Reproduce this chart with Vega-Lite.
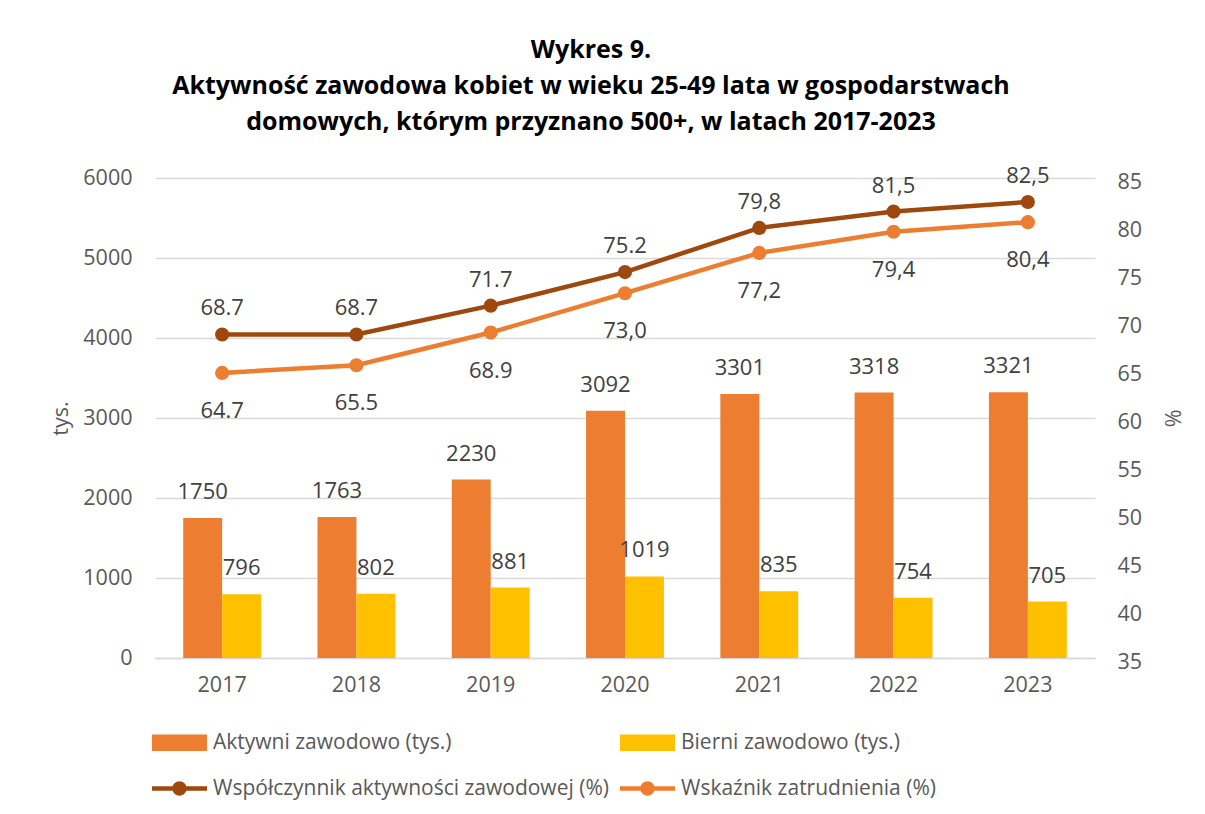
{
  "$schema": "https://vega.github.io/schema/vega-lite/v6.json",
  "width": 940,
  "height": 480,
  "autosize": "none",
  "padding": {"left": 155, "top": 178, "right": 110, "bottom": 156},
  "background": "white",
  "config": {
    "font": "Open Sans",
    "view": {"stroke": null},
    "axis": {
      "labelFont": "Open Sans",
      "labelFontSize": 21.5,
      "labelColor": "#595959",
      "titleFont": "Open Sans",
      "titleFontSize": 21.5,
      "titleColor": "#595959",
      "titleFontWeight": "normal",
      "domain": false,
      "ticks": false,
      "gridColor": "#D9D9D9",
      "gridWidth": 1.5
    }
  },
  "title": {
    "text": ["Wykres 9.", "Aktywność zawodowa kobiet w wieku 25-49 lata w gospodarstwach", "domowych, którym przyznano 500+, w latach 2017-2023"],
    "font": "Open Sans",
    "fontSize": 25,
    "fontWeight": "bold",
    "color": "#000000",
    "lineHeight": 36,
    "anchor": "middle",
    "frame": "group",
    "offset": 30,
    "dx": -34
  },
  "datasets": {
    "bars": [
      {"year": "2017", "series": "Aktywni zawodowo (tys.)", "value": 1750, "label": "1750"},
      {"year": "2018", "series": "Aktywni zawodowo (tys.)", "value": 1763, "label": "1763"},
      {"year": "2019", "series": "Aktywni zawodowo (tys.)", "value": 2230, "label": "2230"},
      {"year": "2020", "series": "Aktywni zawodowo (tys.)", "value": 3092, "label": "3092"},
      {"year": "2021", "series": "Aktywni zawodowo (tys.)", "value": 3301, "label": "3301"},
      {"year": "2022", "series": "Aktywni zawodowo (tys.)", "value": 3318, "label": "3318"},
      {"year": "2023", "series": "Aktywni zawodowo (tys.)", "value": 3321, "label": "3321"},
      {"year": "2017", "series": "Bierni zawodowo (tys.)", "value": 796, "label": "796"},
      {"year": "2018", "series": "Bierni zawodowo (tys.)", "value": 802, "label": "802"},
      {"year": "2019", "series": "Bierni zawodowo (tys.)", "value": 881, "label": "881"},
      {"year": "2020", "series": "Bierni zawodowo (tys.)", "value": 1019, "label": "1019"},
      {"year": "2021", "series": "Bierni zawodowo (tys.)", "value": 835, "label": "835"},
      {"year": "2022", "series": "Bierni zawodowo (tys.)", "value": 754, "label": "754"},
      {"year": "2023", "series": "Bierni zawodowo (tys.)", "value": 705, "label": "705"}
    ],
    "lines": [
      {"year": "2017", "series": "Współczynnik aktywności zawodowej (%)", "value": 68.7, "label": "68.7"},
      {"year": "2018", "series": "Współczynnik aktywności zawodowej (%)", "value": 68.7, "label": "68.7"},
      {"year": "2019", "series": "Współczynnik aktywności zawodowej (%)", "value": 71.7, "label": "71.7"},
      {"year": "2020", "series": "Współczynnik aktywności zawodowej (%)", "value": 75.2, "label": "75.2"},
      {"year": "2021", "series": "Współczynnik aktywności zawodowej (%)", "value": 79.8, "label": "79,8"},
      {"year": "2022", "series": "Współczynnik aktywności zawodowej (%)", "value": 81.5, "label": "81,5"},
      {"year": "2023", "series": "Współczynnik aktywności zawodowej (%)", "value": 82.5, "label": "82,5"},
      {"year": "2017", "series": "Wskaźnik zatrudnienia (%)", "value": 64.7, "label": "64.7"},
      {"year": "2018", "series": "Wskaźnik zatrudnienia (%)", "value": 65.5, "label": "65.5"},
      {"year": "2019", "series": "Wskaźnik zatrudnienia (%)", "value": 68.9, "label": "68.9"},
      {"year": "2020", "series": "Wskaźnik zatrudnienia (%)", "value": 73.0, "label": "73,0"},
      {"year": "2021", "series": "Wskaźnik zatrudnienia (%)", "value": 77.2, "label": "77,2"},
      {"year": "2022", "series": "Wskaźnik zatrudnienia (%)", "value": 79.4, "label": "79,4"},
      {"year": "2023", "series": "Wskaźnik zatrudnienia (%)", "value": 80.4, "label": "80,4"}
    ]
  },
  "encoding": {
    "x": {
      "field": "year",
      "type": "ordinal",
      "scale": {"paddingInner": 0.42, "paddingOuter": 0.21},
      "axis": {"title": null, "labelAngle": 0, "labelPadding": 16, "domain": true, "domainColor": "#D9D9D9", "domainWidth": 1.5}
    }
  },
  "layer": [
    {
      "data": {"name": "bars"},
      "encoding": {
        "y": {
          "field": "value",
          "type": "quantitative",
          "scale": {"domain": [0, 6000], "nice": false},
          "axis": {"title": "tys.", "format": "d", "values": [0, 1000, 2000, 3000, 4000, 5000, 6000], "grid": true, "labelPadding": 23, "titlePadding": 10}
        },
        "xOffset": {"field": "series", "type": "nominal", "sort": ["Aktywni zawodowo (tys.)", "Bierni zawodowo (tys.)"]}
      },
      "layer": [
        {
          "mark": {"type": "bar"},
          "encoding": {
            "color": {
              "field": "series",
              "type": "nominal",
              "scale": {
                "domain": ["Aktywni zawodowo (tys.)", "Bierni zawodowo (tys.)", "Współczynnik aktywności zawodowej (%)", "Wskaźnik zatrudnienia (%)"],
                "range": ["#ED7D31", "#FFC000", "#9E480E", "#ED7D31"]
              },
              "legend": {
                "title": null,
                "orient": "none",
                "legendX": -3,
                "legendY": 537,
                "direction": "horizontal",
                "columns": 2,
                "symbolSize": 3025,
                "rowPadding": 8,
                "columnPadding": 11,
                "labelFont": "Open Sans",
                "labelFontSize": 21,
                "labelColor": "#595959",
                "labelOffset": 6,
                "labelLimit": 600,
                "encode": {
                  "symbols": {
                    "update": {
                      "shape": [
                        {"test": "datum.value === 'Aktywni zawodowo (tys.)' || datum.value === 'Bierni zawodowo (tys.)'", "value": "M-1,-0.3H1V0.3H-1Z"},
                        {"value": "M-1,-0.085H1V0.085H-1Z M0.26,0A0.26,0.26 0 1,1 -0.26,0A0.26,0.26 0 1,1 0.26,0Z"}
                      ],
                      "fill": {"scale": "color", "field": "value"},
                      "stroke": {"value": "transparent"},
                      "strokeWidth": {"value": 0},
                      "opacity": {"value": 1}
                    }
                  }
                }
              }
            }
          }
        },
        {
          "mark": {"type": "text", "baseline": "alphabetic", "dy": -19, "fontSize": 22, "color": "#404040", "font": "Open Sans"},
          "encoding": {"text": {"field": "label", "type": "nominal"}}
        }
      ]
    },
    {
      "data": {"name": "lines"},
      "encoding": {
        "y": {
          "field": "value",
          "type": "quantitative",
          "scale": {"domain": [35, 85], "nice": false, "zero": false},
          "axis": {"orient": "right", "title": "%", "values": [35, 40, 45, 50, 55, 60, 65, 70, 75, 80, 85], "grid": false, "labelPadding": 22, "titlePadding": 18, "labelBaseline": "middle", "labelOffset": 4}
        }
      },
      "layer": [
        {
          "mark": {"type": "line", "strokeWidth": 4.5},
          "encoding": {
            "color": {
              "field": "series",
              "type": "nominal",
              "legend": {
                "title": null,
                "orient": "none",
                "legendX": -3,
                "legendY": 537,
                "direction": "horizontal",
                "columns": 2,
                "symbolSize": 3025,
                "rowPadding": 8,
                "columnPadding": 11,
                "labelFont": "Open Sans",
                "labelFontSize": 21,
                "labelColor": "#595959",
                "labelOffset": 6,
                "labelLimit": 600,
                "encode": {
                  "symbols": {
                    "update": {
                      "shape": [
                        {"test": "datum.value === 'Aktywni zawodowo (tys.)' || datum.value === 'Bierni zawodowo (tys.)'", "value": "M-1,-0.3H1V0.3H-1Z"},
                        {"value": "M-1,-0.085H1V0.085H-1Z M0.26,0A0.26,0.26 0 1,1 -0.26,0A0.26,0.26 0 1,1 0.26,0Z"}
                      ],
                      "fill": {"scale": "color", "field": "value"},
                      "stroke": {"value": "transparent"},
                      "strokeWidth": {"value": 0},
                      "opacity": {"value": 1}
                    }
                  }
                }
              }
            }
          }
        },
        {
          "mark": {"type": "point", "filled": true, "size": 200, "opacity": 1},
          "encoding": {
            "color": {"field": "series", "type": "nominal", "legend": null}
          }
        },
        {
          "transform": [{"filter": "datum.series === 'Współczynnik aktywności zawodowej (%)'"}],
          "mark": {"type": "text", "baseline": "alphabetic", "dy": -19, "fontSize": 22, "color": "#404040", "font": "Open Sans"},
          "encoding": {"text": {"field": "label", "type": "nominal"}}
        },
        {
          "transform": [{"filter": "datum.series === 'Wskaźnik zatrudnienia (%)'"}],
          "mark": {"type": "text", "baseline": "alphabetic", "dy": 45, "fontSize": 22, "color": "#404040", "font": "Open Sans"},
          "encoding": {"text": {"field": "label", "type": "nominal"}}
        }
      ]
    }
  ],
  "resolve": {"scale": {"y": "independent"}}
}
